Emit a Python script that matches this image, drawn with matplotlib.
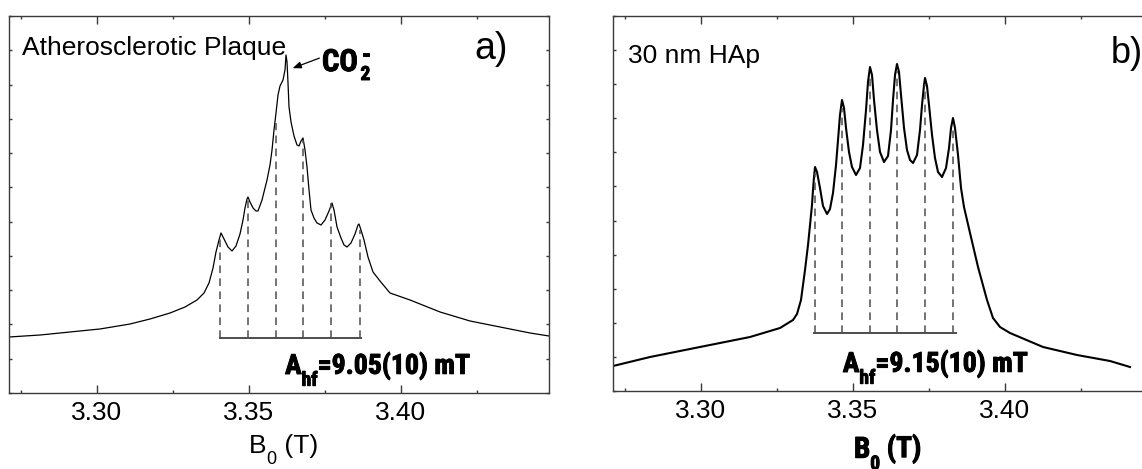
import matplotlib
matplotlib.use("Agg")
import matplotlib.pyplot as plt
from matplotlib import font_manager as fm
from matplotlib import patheffects as pe
from matplotlib.ticker import MultipleLocator, FormatStrFormatter

# ---- data (field in T, intensity in tick units) ----
b_plaque = [3.27105, 3.28125, 3.29112, 3.30099, 3.31086, 3.31743, 3.32401, 3.32895, 3.33289, 3.33520,
            3.33684, 3.33816, 3.33914, 3.34013, 3.34079, 3.34178, 3.34309, 3.34441, 3.34572, 3.34704,
            3.34803, 3.34868, 3.34934, 3.34967, 3.35033, 3.35132, 3.35230, 3.35296, 3.35428, 3.35592,
            3.35691, 3.35757, 3.35822, 3.35888, 3.35954, 3.36020, 3.36118, 3.36184, 3.36217, 3.36250,
            3.36283, 3.36316, 3.36382, 3.36480, 3.36579, 3.36645, 3.36711, 3.36776, 3.36842, 3.36908,
            3.36974, 3.37039, 3.37138, 3.37237, 3.37368, 3.37500, 3.37632, 3.37730, 3.37796, 3.37895,
            3.38026, 3.38125, 3.38224, 3.38355, 3.38487, 3.38586, 3.38618, 3.38684, 3.38783, 3.38914,
            3.39079, 3.39309, 3.39638, 3.40296, 3.41283, 3.42270, 3.43257, 3.44243, 3.44868]
i_plaque = [1.634, 1.692, 1.780, 1.868, 2.013, 2.159, 2.334, 2.509, 2.714, 2.918,
            3.210, 3.647, 4.114, 4.465, 4.669, 4.494, 4.260, 4.144, 4.289, 4.640,
            5.048, 5.398, 5.661, 5.719, 5.573, 5.398, 5.311, 5.311, 5.632, 6.215,
            6.653, 7.091, 7.674, 8.170, 8.696, 8.958, 9.133, 9.425, 9.863, 9.659,
            9.046, 8.345, 7.908, 7.499, 7.237, 7.207, 7.353, 7.441, 7.091, 6.595,
            5.924, 5.340, 5.106, 4.961, 4.902, 5.048, 5.311, 5.544, 5.340, 4.844,
            4.523, 4.319, 4.260, 4.377, 4.640, 4.902, 4.931, 4.756, 4.465, 3.968,
            3.531, 3.268, 2.918, 2.714, 2.364, 2.101, 1.926, 1.751, 1.663]
lines_plaque = [3.34046, 3.34957, 3.35888, 3.36786, 3.37697, 3.38651]
tops_plaque = [4.52, 5.63, 7.88, 7.38, 5.54, 4.76]
bar_plaque = [3.34023, 3.38707]
bar_plaque_y = 1.605

b_hap = [3.27105, 3.28322, 3.29967, 3.31612, 3.32599, 3.33026, 3.33158, 3.33289, 3.33421, 3.33520,
         3.33586, 3.33651, 3.33684, 3.33717, 3.33750, 3.33816, 3.33914, 3.34013, 3.34145, 3.34243,
         3.34342, 3.34441, 3.34507, 3.34572, 3.34638, 3.34704, 3.34770, 3.34868, 3.34967, 3.35099,
         3.35230, 3.35329, 3.35428, 3.35493, 3.35559, 3.35625, 3.35691, 3.35789, 3.35888, 3.36020,
         3.36151, 3.36250, 3.36316, 3.36382, 3.36447, 3.36513, 3.36579, 3.36678, 3.36776, 3.36875,
         3.36974, 3.37105, 3.37204, 3.37270, 3.37336, 3.37368, 3.37434, 3.37500, 3.37599, 3.37697,
         3.37796, 3.37928, 3.38059, 3.38158, 3.38224, 3.38289, 3.38355, 3.38454, 3.38553, 3.38651,
         3.38849, 3.39112, 3.39408, 3.39605, 3.39836, 3.40164, 3.41250, 3.42368, 3.43454, 3.44112]
i_hap = [0.733, 0.997, 1.291, 1.584, 1.848, 2.083, 2.259, 2.669, 3.549, 4.283,
         4.869, 5.456, 5.896, 6.277, 6.571, 6.424, 5.955, 5.427, 5.192, 5.339,
         5.808, 6.629, 7.363, 8.096, 8.536, 8.302, 7.715, 7.011, 6.571, 6.336,
         6.541, 7.216, 8.243, 9.064, 9.504, 9.270, 8.536, 7.656, 7.011, 6.717,
         6.893, 7.656, 8.536, 9.270, 9.592, 9.358, 8.683, 7.715, 7.070, 6.776,
         6.688, 6.923, 7.656, 8.390, 8.976, 9.182, 8.947, 8.390, 7.510, 6.835,
         6.424, 6.277, 6.541, 7.128, 7.715, 8.008, 7.715, 6.923, 5.955, 5.397,
         4.635, 3.637, 2.669, 2.141, 1.877, 1.701, 1.291, 1.056, 0.880, 0.704]
lines_hap = [3.33750, 3.34638, 3.35559, 3.36447, 3.37368, 3.38289]
tops_hap = [6.4, 8.3, 9.3, 9.4, 9.0, 7.8]
bar_hap = [3.33684, 3.38421]
bar_hap_y = 1.70

x_range = (3.27115, 3.44878)
y_range = (0, 11)

plt.rcParams['font.family'] = ['Liberation Sans', 'DejaVu Sans']


def condensed_bold():
    entries = fm.fontManager.ttflist
    for want in ["Liberation Sans Narrow", "Roboto Condensed", "Open Sans Condensed",
                 "DejaVu Sans Condensed", "Noto Sans Condensed"]:
        for f in entries:
            if f.name == want and f.weight in (700, "bold"):
                return fm.FontProperties(fname=f.fname)
    for f in entries:
        if "condensed" in str(f.stretch) and f.weight in (700, "bold"):
            return fm.FontProperties(fname=f.fname)
    return fm.FontProperties(family="DejaVu Sans", weight="bold")


cond = condensed_bold()
heavy = [pe.withStroke(linewidth=0.7, foreground='black')]


def sub_text(ax, x, y, main, sub, rest, size, sub_size, drop, fp=None, effects=None):
    kw = dict(fontproperties=fp) if fp is not None else {}
    if effects:
        kw['path_effects'] = effects
    t0 = ax.text(x, y, main, transform=ax.transAxes, fontsize=size, va='baseline', **kw)
    t1 = ax.annotate(sub, xy=(1, 0), xycoords=t0, xytext=(0, -drop),
                     textcoords='offset points', fontsize=sub_size, va='bottom', **kw)
    t2 = ax.annotate(rest, xy=(1, 0), xycoords=(t1, t0), fontsize=size, va='bottom', **kw)
    return t0, t1, t2


W, H = 1142, 469
fig = plt.figure(figsize=(W / 100, H / 100), dpi=100)
ax_a = fig.add_axes([9.3 / W, 76 / H, 540 / W, 377 / H])
ax_b = fig.add_axes([613.3 / W, 78 / H, 540 / W, 375 / H])

spine_col = '#3a3a3a'
dash_col = '#4d4d4d'

for ax in (ax_a, ax_b):
    ax.set_xlim(*x_range)
    ax.set_ylim(*y_range)
    ax.xaxis.set_major_locator(MultipleLocator(0.05))
    ax.xaxis.set_minor_locator(MultipleLocator(0.025))
    ax.xaxis.set_major_formatter(FormatStrFormatter('%.2f'))
    ax.yaxis.set_major_locator(MultipleLocator(1))
    ax.tick_params(which='both', direction='in', top=True, right=True,
                   color=spine_col, width=1.0, labelsize=19, pad=6)
    ax.tick_params(axis='x', which='major', length=5.5)
    ax.tick_params(axis='x', which='minor', length=2.4)
    ax.tick_params(axis='y', length=2.4, labelleft=False)
    for s in ax.spines.values():
        s.set_color(spine_col)
        s.set_linewidth(1.0)

# panel a
ax_a.plot(b_plaque, i_plaque, color='black', lw=0.9)
ax_a.vlines(lines_plaque, bar_plaque_y, tops_plaque, colors=dash_col, lw=1.1,
            linestyles=(0, (5, 3.5)))
ax_a.hlines(bar_plaque_y, bar_plaque[0], bar_plaque[1], colors=dash_col, lw=1.4)
ax_a.text(0.0235, 0.8966, "Atherosclerotic Plaque", transform=ax_a.transAxes,
          fontsize=19, va='baseline')
ax_a.text(0.862, 0.885, "a)", transform=ax_a.transAxes, fontsize=27, va='baseline')
ax_a.annotate("", xy=(3.3635, 9.45), xytext=(3.3740, 9.80),
              arrowprops=dict(arrowstyle='-|>,head_length=0.5,head_width=0.2', color='black', lw=0.9))
co = ax_a.text(0.579, 0.854, "CO", transform=ax_a.transAxes, fontproperties=cond,
               fontsize=22, va='baseline', path_effects=heavy)
ax_a.annotate("2", xy=(1, 0), xycoords=co, xytext=(2, -5), textcoords='offset points',
              fontproperties=cond, fontsize=14, va='bottom', path_effects=heavy)
ax_a.annotate("-", xy=(1, 1), xycoords=co, xytext=(3, 2), textcoords='offset points',
              fontproperties=cond, fontsize=16, va='top', path_effects=heavy)
sub_text(ax_a, 0.5106, 0.0504, "A", "hf", "=9.05(10) mT", 20, 14, 7, cond, heavy)
sub_text(ax_a, 0.444, -0.159, "B", "0", " (T)", 19, 13, 7)

# panel b
ax_b.plot(b_hap, i_hap, color='black', lw=1.5)
ax_b.vlines(lines_hap, bar_hap_y, tops_hap, colors=dash_col, lw=1.1,
            linestyles=(0, (5, 3.5)))
ax_b.hlines(bar_hap_y, bar_hap[0], bar_hap[1], colors=dash_col, lw=1.4)
ax_b.text(0.027, 0.875, "30 nm HAp", transform=ax_b.transAxes, fontsize=19, va='baseline')
ax_b.text(0.922, 0.875, "b)", transform=ax_b.transAxes, fontsize=26, va='baseline')
sub_text(ax_b, 0.425, 0.0507, "A", "hf", "=9.15(10) mT", 20, 14, 7, cond, heavy)
sub_text(ax_b, 0.4457, -0.178, "B", "0", " (T)", 21, 14, 7, cond, heavy)

fig.savefig("out.png", dpi=100)
